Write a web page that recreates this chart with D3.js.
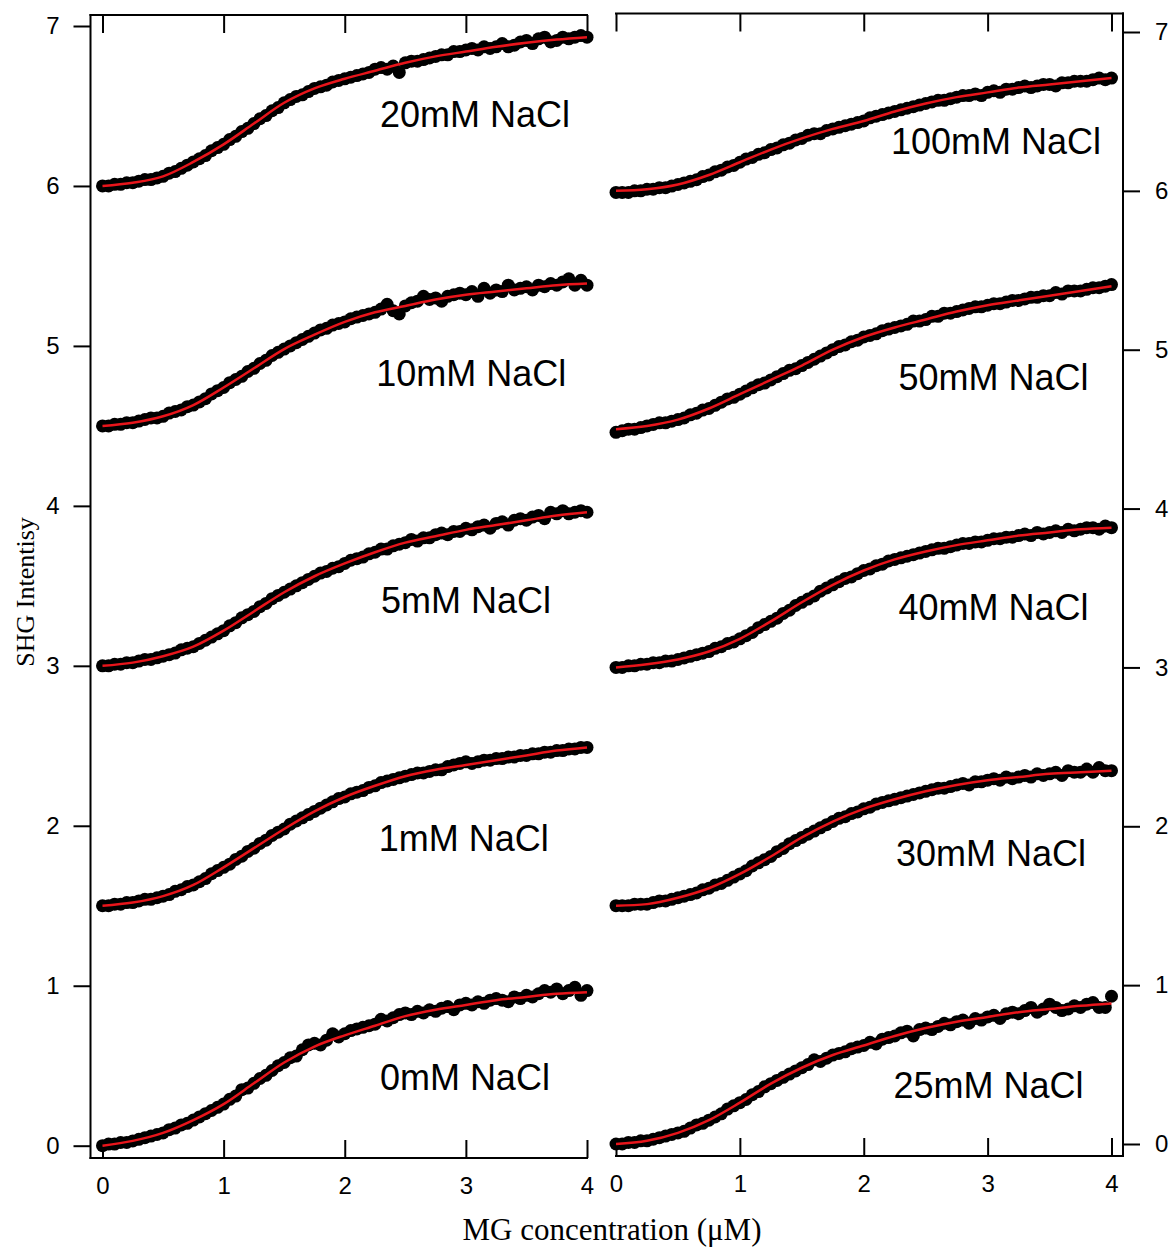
<!DOCTYPE html>
<html>
<head>
<meta charset="utf-8">
<script src="https://cdn.jsdelivr.net/npm/d3@7"></script>
<style>
  body { margin: 0; background: #fff; }
  svg { display: block; }
</style>
</head>
<body>
<svg id="chart" width="1173" height="1256"></svg>
<script>
// MG concentration (µM) at which each SHG point was recorded
const concentration = [
  0.00, 0.05, 0.10, 0.15, 0.20, 0.25, 0.30, 0.35, 0.40, 0.45,
  0.50, 0.55, 0.60, 0.65, 0.70, 0.75, 0.80, 0.85, 0.90, 0.95,
  1.00, 1.05, 1.10, 1.15, 1.20, 1.25, 1.30, 1.35, 1.40, 1.45,
  1.50, 1.55, 1.60, 1.65, 1.70, 1.75, 1.80, 1.85, 1.90, 1.95,
  2.00, 2.05, 2.10, 2.15, 2.20, 2.25, 2.30, 2.35, 2.40, 2.45,
  2.50, 2.55, 2.60, 2.65, 2.70, 2.75, 2.80, 2.85, 2.90, 2.95,
  3.00, 3.05, 3.10, 3.15, 3.20, 3.25, 3.30, 3.35, 3.40, 3.45,
  3.50, 3.55, 3.60, 3.65, 3.70, 3.75, 3.80, 3.85, 3.90, 3.95,
  4.00
];

// Concentrations at which the fitted curves are tabulated
const fitConcentration = [0, 0.25, 0.5, 0.75, 1, 1.25, 1.5, 1.75, 2, 2.25, 2.5, 2.75, 3, 3.25, 3.5, 3.75, 4];

// SHG intensity (offset traces), one array per NaCl concentration
const shg0mM = [
  0.00, 0.01, 0.01, 0.02, 0.02, 0.03, 0.04, 0.05, 0.06, 0.07,
  0.08, 0.10, 0.11, 0.13, 0.14, 0.16, 0.18, 0.20, 0.22, 0.24,
  0.26, 0.29, 0.31, 0.35, 0.36, 0.39, 0.42, 0.44, 0.47, 0.50,
  0.52, 0.55, 0.56, 0.60, 0.63, 0.64, 0.63, 0.66, 0.70, 0.68,
  0.70, 0.72, 0.73, 0.74, 0.75, 0.76, 0.79, 0.78, 0.80, 0.82,
  0.83, 0.82, 0.84, 0.83, 0.85, 0.84, 0.86, 0.87, 0.85, 0.88,
  0.89, 0.88, 0.90, 0.89, 0.91, 0.92, 0.91, 0.90, 0.93, 0.92,
  0.94, 0.93, 0.95, 0.97, 0.96, 0.98, 0.95, 0.97, 0.99, 0.94,
  0.97
];
const shg1mM = [
  1.50, 1.50, 1.51, 1.51, 1.52, 1.52, 1.53, 1.54, 1.54, 1.55,
  1.56, 1.57, 1.59, 1.60, 1.62, 1.63, 1.65, 1.67, 1.70, 1.72,
  1.74, 1.76, 1.79, 1.81, 1.84, 1.86, 1.89, 1.91, 1.94, 1.96,
  1.98, 2.01, 2.03, 2.05, 2.07, 2.09, 2.11, 2.13, 2.15, 2.17,
  2.18, 2.20, 2.21, 2.22, 2.24, 2.25, 2.27, 2.28, 2.29, 2.30,
  2.31, 2.32, 2.33, 2.33, 2.34, 2.35, 2.35, 2.37, 2.38, 2.39,
  2.40, 2.39, 2.40, 2.41, 2.41, 2.42, 2.42, 2.43, 2.43, 2.44,
  2.44, 2.45, 2.45, 2.46, 2.46, 2.47, 2.47, 2.48, 2.48, 2.49,
  2.49
];
const shg5mM = [
  3.00, 3.00, 3.01, 3.01, 3.02, 3.02, 3.03, 3.04, 3.04, 3.05,
  3.06, 3.07, 3.08, 3.10, 3.11, 3.12, 3.14, 3.16, 3.18, 3.20,
  3.22, 3.25, 3.27, 3.30, 3.32, 3.34, 3.37, 3.39, 3.42, 3.44,
  3.46, 3.48, 3.50, 3.52, 3.54, 3.56, 3.58, 3.59, 3.61, 3.62,
  3.64, 3.66, 3.67, 3.68, 3.70, 3.71, 3.73, 3.73, 3.75, 3.76,
  3.77, 3.79, 3.78, 3.80, 3.80, 3.82, 3.83, 3.82, 3.84, 3.84,
  3.86, 3.85, 3.87, 3.88, 3.86, 3.89, 3.90, 3.88, 3.91, 3.92,
  3.91, 3.93, 3.94, 3.92, 3.96, 3.95, 3.97, 3.95, 3.96, 3.97,
  3.96
];
const shg10mM = [
  4.50, 4.50, 4.51, 4.51, 4.52, 4.52, 4.53, 4.54, 4.55, 4.55,
  4.56, 4.58, 4.59, 4.60, 4.62, 4.63, 4.65, 4.67, 4.70, 4.72,
  4.74, 4.77, 4.79, 4.81, 4.84, 4.86, 4.89, 4.91, 4.94, 4.96,
  4.98, 5.00, 5.02, 5.04, 5.06, 5.08, 5.10, 5.11, 5.13, 5.14,
  5.15, 5.17, 5.18, 5.19, 5.20, 5.21, 5.23, 5.26, 5.22, 5.20,
  5.25, 5.27, 5.28, 5.31, 5.29, 5.30, 5.28, 5.31, 5.32, 5.33,
  5.32, 5.34, 5.31, 5.36, 5.33, 5.35, 5.34, 5.38, 5.35, 5.36,
  5.37, 5.35, 5.38, 5.37, 5.39, 5.38, 5.40, 5.42, 5.38, 5.41,
  5.38
];
const shg20mM = [
  6.00, 6.00, 6.01, 6.01, 6.02, 6.02, 6.03, 6.04, 6.04, 6.05,
  6.06, 6.08, 6.09, 6.11, 6.13, 6.15, 6.17, 6.19, 6.22, 6.24,
  6.26, 6.29, 6.31, 6.34, 6.36, 6.39, 6.42, 6.44, 6.47, 6.49,
  6.52, 6.54, 6.56, 6.57, 6.59, 6.61, 6.62, 6.63, 6.65, 6.66,
  6.67, 6.68, 6.69, 6.70, 6.71, 6.73, 6.74, 6.73, 6.75, 6.71,
  6.77, 6.78, 6.78, 6.79, 6.80, 6.81, 6.82, 6.82, 6.84, 6.84,
  6.85, 6.86, 6.85, 6.87, 6.86, 6.87, 6.89, 6.87, 6.88, 6.90,
  6.91, 6.89, 6.92, 6.93, 6.90, 6.91, 6.93, 6.92, 6.93, 6.94,
  6.93
];
const shg25mM = [
  0.00, 0.00, 0.01, 0.01, 0.02, 0.02, 0.03, 0.04, 0.05, 0.06,
  0.07, 0.08, 0.10, 0.12, 0.13, 0.15, 0.17, 0.19, 0.22, 0.24,
  0.26, 0.28, 0.31, 0.33, 0.36, 0.38, 0.40, 0.42, 0.44, 0.46,
  0.48, 0.50, 0.53, 0.52, 0.54, 0.56, 0.57, 0.58, 0.60, 0.61,
  0.62, 0.64, 0.63, 0.66, 0.67, 0.68, 0.70, 0.71, 0.68, 0.72,
  0.73, 0.72, 0.74, 0.76, 0.75, 0.77, 0.78, 0.76, 0.79, 0.78,
  0.80, 0.81, 0.79, 0.82, 0.83, 0.82, 0.84, 0.86, 0.83, 0.85,
  0.88, 0.86, 0.84, 0.85, 0.87, 0.86, 0.88, 0.89, 0.86, 0.86,
  0.93
];
const shg30mM = [
  1.50, 1.50, 1.50, 1.51, 1.51, 1.51, 1.52, 1.53, 1.53, 1.54,
  1.55, 1.56, 1.57, 1.58, 1.60, 1.61, 1.63, 1.64, 1.66, 1.68,
  1.70, 1.72, 1.75, 1.77, 1.79, 1.81, 1.84, 1.86, 1.89, 1.91,
  1.93, 1.95, 1.97, 1.99, 2.01, 2.03, 2.05, 2.06, 2.08, 2.09,
  2.11, 2.12, 2.14, 2.15, 2.16, 2.17, 2.18, 2.19, 2.20, 2.21,
  2.22, 2.23, 2.24, 2.24, 2.25, 2.26, 2.27, 2.26, 2.28, 2.28,
  2.29, 2.30, 2.29, 2.31, 2.30, 2.31, 2.32, 2.31, 2.33, 2.32,
  2.33, 2.34, 2.32, 2.35, 2.34, 2.34, 2.36, 2.34, 2.37, 2.35,
  2.35
];
const shg40mM = [
  3.00, 3.00, 3.01, 3.01, 3.02, 3.02, 3.03, 3.03, 3.04, 3.04,
  3.05, 3.06, 3.07, 3.08, 3.09, 3.10, 3.12, 3.13, 3.15, 3.16,
  3.18, 3.20, 3.22, 3.25, 3.27, 3.29, 3.31, 3.34, 3.36, 3.39,
  3.41, 3.43, 3.45, 3.48, 3.50, 3.52, 3.54, 3.56, 3.57, 3.59,
  3.61, 3.62, 3.64, 3.65, 3.67, 3.68, 3.69, 3.70, 3.71, 3.72,
  3.73, 3.74, 3.75, 3.75, 3.76, 3.77, 3.78, 3.78, 3.79, 3.79,
  3.80, 3.81, 3.81, 3.82, 3.82, 3.83, 3.84, 3.83, 3.85, 3.84,
  3.85, 3.86, 3.85, 3.87, 3.86, 3.87, 3.88, 3.88, 3.87, 3.89,
  3.88
];
const shg50mM = [
  4.48, 4.49, 4.50, 4.50, 4.51, 4.52, 4.53, 4.54, 4.54, 4.55,
  4.56, 4.57, 4.59, 4.60, 4.62, 4.63, 4.65, 4.67, 4.69, 4.70,
  4.72, 4.74, 4.76, 4.78, 4.79, 4.81, 4.83, 4.85, 4.87, 4.88,
  4.90, 4.92, 4.94, 4.96, 4.98, 5.00, 5.02, 5.03, 5.05, 5.06,
  5.08, 5.09, 5.10, 5.12, 5.13, 5.14, 5.15, 5.16, 5.18, 5.18,
  5.19, 5.21, 5.21, 5.23, 5.23, 5.24, 5.25, 5.26, 5.27, 5.27,
  5.28, 5.29, 5.29, 5.30, 5.31, 5.31, 5.32, 5.33, 5.33, 5.34,
  5.34, 5.36, 5.35, 5.37, 5.37, 5.37, 5.38, 5.39, 5.39, 5.40,
  5.41
];
const shg100mM = [
  5.99, 5.99, 5.99, 6.00, 6.00, 6.01, 6.01, 6.02, 6.02, 6.03,
  6.04, 6.05, 6.06, 6.07, 6.09, 6.10, 6.12, 6.13, 6.15, 6.16,
  6.18, 6.20, 6.21, 6.23, 6.24, 6.26, 6.27, 6.29, 6.30, 6.32,
  6.33, 6.35, 6.36, 6.36, 6.38, 6.39, 6.40, 6.41, 6.42, 6.43,
  6.44, 6.46, 6.47, 6.48, 6.49, 6.50, 6.51, 6.52, 6.53, 6.54,
  6.55, 6.56, 6.57, 6.57, 6.58, 6.59, 6.60, 6.60, 6.61, 6.60,
  6.62, 6.63, 6.62, 6.64, 6.64, 6.65, 6.66, 6.65, 6.66, 6.67,
  6.67, 6.66, 6.68, 6.68, 6.69, 6.69, 6.69, 6.70, 6.71, 6.70,
  6.71
];

// Fitted binding curves, tabulated at fitConcentration
const fit0mM   = [0.00, 0.03, 0.08, 0.16, 0.26, 0.39, 0.52, 0.62, 0.69, 0.75, 0.81, 0.85, 0.88, 0.91, 0.93, 0.95, 0.96];
const fit1mM   = [1.50, 1.52, 1.56, 1.63, 1.74, 1.86, 1.98, 2.09, 2.18, 2.25, 2.31, 2.35, 2.38, 2.41, 2.44, 2.47, 2.49];
const fit5mM   = [3.00, 3.02, 3.06, 3.12, 3.22, 3.34, 3.46, 3.56, 3.64, 3.71, 3.77, 3.81, 3.85, 3.88, 3.91, 3.94, 3.96];
const fit10mM  = [4.50, 4.52, 4.56, 4.63, 4.74, 4.86, 4.98, 5.07, 5.15, 5.21, 5.25, 5.29, 5.32, 5.34, 5.36, 5.38, 5.39];
const fit20mM  = [6.00, 6.02, 6.06, 6.15, 6.26, 6.39, 6.52, 6.61, 6.67, 6.72, 6.77, 6.81, 6.84, 6.87, 6.895, 6.915, 6.93];
const fit25mM  = [0.00, 0.02, 0.07, 0.15, 0.26, 0.38, 0.48, 0.56, 0.62, 0.68, 0.73, 0.77, 0.80, 0.83, 0.85, 0.87, 0.885];
const fit30mM  = [1.50, 1.51, 1.55, 1.61, 1.70, 1.81, 1.93, 2.03, 2.11, 2.17, 2.22, 2.26, 2.29, 2.31, 2.33, 2.34, 2.35];
const fit40mM  = [3.00, 3.02, 3.05, 3.10, 3.18, 3.29, 3.41, 3.52, 3.61, 3.68, 3.73, 3.77, 3.80, 3.83, 3.85, 3.87, 3.88];
const fit50mM  = [4.50, 4.52, 4.56, 4.63, 4.72, 4.81, 4.90, 5.00, 5.08, 5.14, 5.19, 5.24, 5.28, 5.31, 5.34, 5.37, 5.40];
const fit100mM = [6.00, 6.01, 6.04, 6.10, 6.18, 6.26, 6.33, 6.39, 6.44, 6.50, 6.55, 6.59, 6.62, 6.65, 6.67, 6.69, 6.71];

// Series labels
const leftLabels  = ["20mM NaCl", "10mM NaCl", "5mM NaCl", "1mM NaCl", "0mM NaCl"];
const rightLabels = ["100mM NaCl", "50mM NaCl", "40mM NaCl", "30mM NaCl", "25mM NaCl"];

// Tick values
const xTicks = [0, 1, 2, 3, 4];
const yTicks = [0, 1, 2, 3, 4, 5, 6, 7];

// Axis titles
const xTitle = "MG concentration (\u03BCM)";
const yTitle = "SHG Intentisy";

// ---------------------------------------------------------------------------
const svg = d3.select("#chart");
svg.append("rect").attr("width", 1173).attr("height", 1256).attr("fill", "#fff");

const SANS = "'Liberation Sans', Arial, Helvetica, sans-serif";
const SERIF = "'Liberation Serif', 'Times New Roman', Times, serif";
const RED = "#e8151b";
const TICK_FONT = 24;

const panels = [
  {
    frame: { left: 90.5, right: 587, top: 15, bottom: 1158 },
    x: d3.scaleLinear().domain([0, 4]).range([102.5, 587]),
    y: d3.scaleLinear().domain([0, 7]).range([1145.7, 26]),
    yAxisSide: "left",
    series: [
      { points: shg20mM, fit: fit20mM, label: leftLabels[0], at: [2.29, 6.37] },
      { points: shg10mM, fit: fit10mM, label: leftLabels[1], at: [2.26, 4.75] },
      { points: shg5mM,  fit: fit5mM,  label: leftLabels[2], at: [2.30, 3.33] },
      { points: shg1mM,  fit: fit1mM,  label: leftLabels[3], at: [2.28, 1.84] },
      { points: shg0mM,  fit: fit0mM,  label: leftLabels[4], at: [2.29, 0.35] }
    ]
  },
  {
    frame: { left: 616, right: 1123, top: 13.5, bottom: 1156 },
    x: d3.scaleLinear().domain([0, 4]).range([616, 1111.5]),
    y: d3.scaleLinear().domain([0, 7]).range([1144, 32]),
    yAxisSide: "right",
    series: [
      { points: shg100mM, fit: fit100mM, label: rightLabels[0], at: [2.22, 6.23] },
      { points: shg50mM,  fit: fit50mM,  label: rightLabels[1], at: [2.28, 4.745] },
      { points: shg40mM,  fit: fit40mM,  label: rightLabels[2], at: [2.28, 3.30] },
      { points: shg30mM,  fit: fit30mM,  label: rightLabels[3], at: [2.26, 1.75] },
      { points: shg25mM,  fit: fit25mM,  label: rightLabels[4], at: [2.24, 0.29] }
    ]
  }
];

function styleAxis(g) {
  g.attr("font-size", TICK_FONT).attr("font-family", SANS);
  g.select(".domain").remove();
  g.selectAll(".tick line").attr("stroke", "#000").attr("stroke-width", 2);
  g.selectAll(".tick text")
    .attr("fill", "#000")
    .style("font-size", TICK_FONT + "px")
    .style("font-family", SANS);
}

panels.forEach(p => {
  const f = p.frame;
  const g = svg.append("g");

  // frame lines: top, bottom and the value axis side
  const frameLines = [
    [f.left, f.top, f.right, f.top],
    [f.left, f.bottom, f.right, f.bottom]
  ];
  if (p.yAxisSide === "left") frameLines.push([f.left, f.top, f.left, f.bottom]);
  else frameLines.push([f.right, f.top, f.right, f.bottom]);
  g.selectAll("line.frame").data(frameLines).join("line")
    .attr("class", "frame")
    .attr("x1", d => d[0]).attr("y1", d => d[1])
    .attr("x2", d => d[2]).attr("y2", d => d[3])
    .attr("stroke", "#000").attr("stroke-width", 2)
    .attr("stroke-linecap", "square");

  // bottom axis with inward ticks and labels
  g.append("g")
    .attr("transform", `translate(0,${f.bottom})`)
    .call(d3.axisBottom(p.x).tickValues(xTicks).tickFormat(d3.format("d"))
      .tickSize(-18).tickPadding(19))
    .call(styleAxis);

  // top mirror axis, inward ticks only
  g.append("g")
    .attr("transform", `translate(0,${f.top})`)
    .call(d3.axisTop(p.x).tickValues(xTicks).tickFormat("").tickSize(-18))
    .call(styleAxis);

  // value axis
  if (p.yAxisSide === "left") {
    g.append("g")
      .attr("transform", `translate(${f.left},0)`)
      .call(d3.axisLeft(p.y).tickValues(yTicks).tickFormat(d3.format("d"))
        .tickSize(17).tickPadding(14))
      .call(styleAxis);
  } else {
    g.append("g")
      .attr("transform", `translate(${f.right},0)`)
      .call(d3.axisRight(p.y).tickValues(yTicks).tickFormat(d3.format("d"))
        .tickSize(17).tickPadding(15))
      .call(styleAxis);
  }

  const fitLine = d3.line()
    .x((d, i) => p.x(fitConcentration[i]))
    .y(d => p.y(d))
    .curve(d3.curveMonotoneX);

  p.series.forEach(s => {
    const sg = g.append("g");
    sg.selectAll("circle").data(s.points).join("circle")
      .attr("cx", (d, i) => p.x(concentration[i]))
      .attr("cy", d => p.y(d))
      .attr("r", 6.5)
      .attr("fill", "#000");
    sg.append("path")
      .datum(s.fit)
      .attr("d", fitLine)
      .attr("fill", "none")
      .attr("stroke", RED)
      .attr("stroke-width", 2.5);
    sg.append("text")
      .attr("x", p.x(s.at[0]))
      .attr("y", p.y(s.at[1]))
      .attr("fill", "#000")
      .style("font-family", SANS)
      .style("font-size", "36px")
      .text(s.label);
  });
});

// axis titles
svg.append("text")
  .attr("x", 612).attr("y", 1240)
  .attr("text-anchor", "middle")
  .style("font-family", SERIF)
  .style("font-size", "31px")
  .attr("fill", "#000")
  .text(xTitle);

svg.append("text")
  .attr("transform", "translate(34,592) rotate(-90)")
  .attr("text-anchor", "middle")
  .style("font-family", SERIF)
  .style("font-size", "26px")
  .attr("fill", "#000")
  .text(yTitle);
</script>
</body>
</html>
